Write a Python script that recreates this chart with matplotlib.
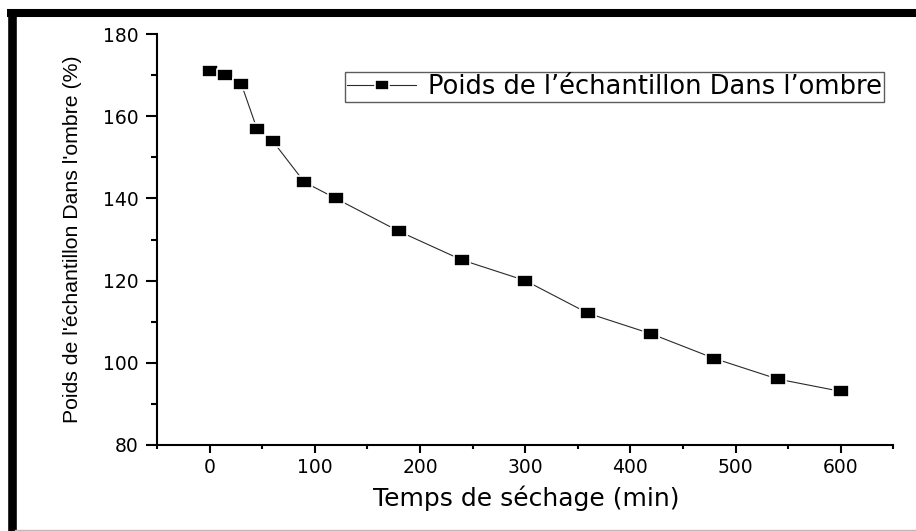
import numpy as np
import matplotlib.pyplot as plt
from matplotlib.lines import Line2D
from matplotlib.ticker import MultipleLocator


# temps de sechage (min) et poids de l'echantillon (%)
temps = [0, 15, 30, 45, 60, 90, 120, 180, 240, 300, 360, 420, 480, 540, 600]
poids = [171, 170, 168, 157, 154, 144, 140, 132, 125, 120, 112, 107, 101, 96, 93]

legend_label = "Poids de l\u2019\u00e9chantillon Dans l\u2019ombre"
xlabel = "Temps de s\u00e9chage (min)"
ylabel = "Poids de l'\u00e9chantillon Dans l'ombre (%)"

W, H = 916, 531
fig = plt.figure(figsize=(W / 100, H / 100), dpi=100)
ax = fig.add_axes([157 / W, 1 - 444.7 / H, 736.3 / W, 410.4 / H])

# marqueur carre un peu plus large que haut
sq = [(-1, -0.72), (1, -0.72), (1, 0.72), (-1, 0.72), (-1, -0.72)]

ax.plot(temps, poids, color='#2a2a2a', lw=0.8, marker=sq, markersize=12,
        markerfacecolor='black', markeredgecolor='white', markeredgewidth=1.2,
        label=legend_label)

ax.set_xlim(-50, 650)
ax.set_ylim(80, 180)
ax.xaxis.set_major_locator(MultipleLocator(100))
ax.xaxis.set_minor_locator(MultipleLocator(50))
ax.yaxis.set_major_locator(MultipleLocator(20))
ax.yaxis.set_minor_locator(MultipleLocator(10))

for s in ['top', 'right']:
    ax.spines[s].set_visible(False)
for s in ['left', 'bottom']:
    ax.spines[s].set_linewidth(1.5)

ax.tick_params(axis='x', which='major', direction='out', length=5.8, width=1.5,
               pad=4, labelsize=13.5)
ax.tick_params(axis='x', which='minor', direction='out', length=3, width=1.5)
ax.tick_params(axis='y', which='major', direction='out', length=8, width=1.5,
               pad=5, labelsize=13.5)
ax.tick_params(axis='y', which='minor', direction='out', length=4, width=1.5)
for t in ax.get_xticklabels() + ax.get_yticklabels():
    t.set_family('DejaVu Sans')

ax.set_xlabel(xlabel, fontsize=18, family='DejaVu Sans')
ax.xaxis.set_label_coords(0.501, -0.1)
ax.set_ylabel(ylabel, fontsize=15.3, family='Liberation Sans')
ax.yaxis.set_label_coords(-0.102, 0.5)

leg = ax.legend(loc='upper right', bbox_to_anchor=(0.9874, 0.908), borderaxespad=0,
                prop={'family': 'DejaVu Sans', 'size': 18.5}, fancybox=False,
                handlelength=2.7, handletextpad=0.45, borderpad=0.08,
                markerscale=0.85)
leg.get_frame().set_edgecolor('#333333')
leg.get_frame().set_linewidth(1.0)

# cadre epais autour de l'image
fig.add_artist(Line2D([7 / W, 1], [1 - 13 / H, 1 - 13 / H], color='black', lw=5.8,
                      transform=fig.transFigure, solid_capstyle='butt'))
fig.add_artist(Line2D([11.5 / W, 11.5 / W], [0, 1 - 9 / H], color='black', lw=6.2,
                      transform=fig.transFigure, solid_capstyle='butt'))
fig.add_artist(Line2D([15 / W, 1], [1.5 / H, 1.5 / H], color='#bbbbbb', lw=1,
                      transform=fig.transFigure))

fig.savefig('out.png', dpi=100)
